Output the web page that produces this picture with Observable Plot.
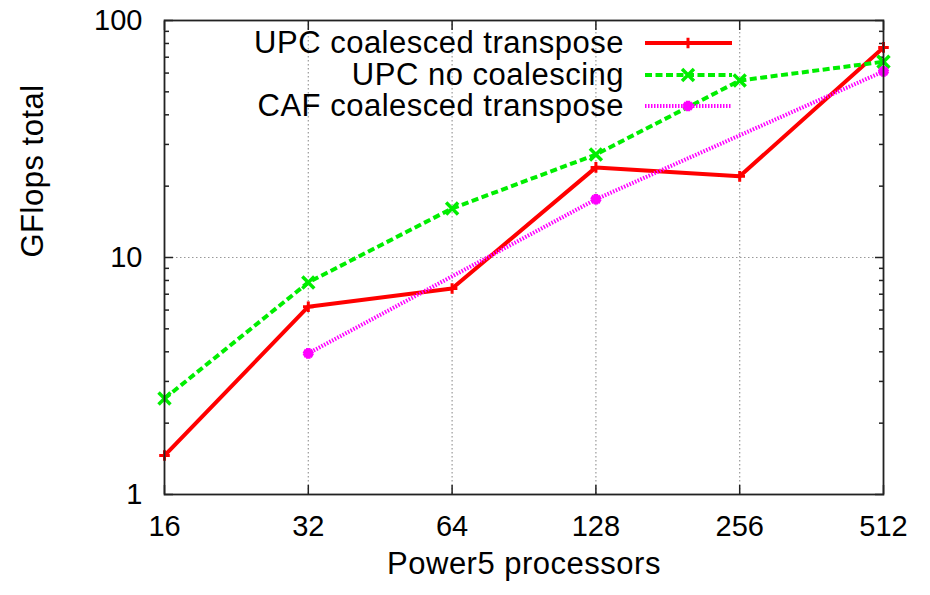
<!DOCTYPE html>
<html><head><meta charset="utf-8">
<script src="https://cdn.jsdelivr.net/npm/d3@7"></script>
<script src="https://cdn.jsdelivr.net/npm/@observablehq/plot@0.6"></script>
<style>
body{margin:0;background:#fff;}
#wrap{position:relative;width:930px;height:595px;font-family:"Liberation Sans",Arial,Helvetica,sans-serif;}
#legend{position:absolute;left:0;top:0;width:930px;height:0;}
.lrow{position:absolute;right:306px;font-size:31px;letter-spacing:0.5px;line-height:30px;white-space:nowrap;color:#000;}
.lsamp{position:absolute;}
</style></head><body><div id="wrap"><div id="legend"></div></div>
<script>
// ---- data ----
const procs = [16, 32, 64, 128, 256, 512];
const upcCoalesced = [1.46, 6.2, 7.4, 24, 22, 77];
const upcNoCoalescing = [2.54, 7.85, 16.1, 27.2, 55.8, 67];
const cafProcs = [32, 128, 512];
const cafCoalesced = [3.94, 17.6, 61];
const seriesNames = ["UPC coalesced transpose", "UPC no coalescing", "CAF coalesced transpose"];
const xTicks = [16, 32, 64, 128, 256, 512];
const yTicks = [1, 10, 100];
const xLabel = "Power5 processors";
const yLabel = "GFlops total";

// ---- styles ----
const styles = [
  {stroke: "#ff0000", dash: null, symbol: "plus", r: 3.5, sw: 3},
  {stroke: "#00ee00", dash: "7,3.5", symbol: "times", r: 5.5, sw: 3.5},
  {stroke: "#ff00ff", dash: "1.5,1.5", symbol: "asterisk", r: 5, sw: 4.5}
];

const rows = [];
procs.forEach((p, i) => rows.push({series: seriesNames[0], s: 0, x: p, y: upcCoalesced[i]}));
procs.forEach((p, i) => rows.push({series: seriesNames[1], s: 1, x: p, y: upcNoCoalescing[i]}));
cafProcs.forEach((p, i) => rows.push({series: seriesNames[2], s: 2, x: p, y: cafCoalesced[i]}));

const minorY = [];
for (const d of [1, 10]) for (let k = 2; k <= 9; k++) minorY.push(d * k);

const lineMarks = styles.map((st, s) =>
  Plot.line(rows.filter(r => r.s === s), {x: "x", y: "y", stroke: st.stroke, strokeWidth: 4,
    strokeDasharray: st.dash, strokeLinecap: "butt", strokeLinejoin: "miter"}));
const dotMarks = styles.map((st, s) =>
  Plot.dot(rows.filter(r => r.s === s), {x: "x", y: "y", stroke: st.stroke, fill: st.stroke,
    symbol: () => st.symbol, r: st.r, strokeWidth: st.sw}));

const noText = () => "";
const tickStyle = {label: null, stroke: "#222", strokeWidth: 1.5, tickFormat: noText};
const chart = Plot.plot({
  width: 930, height: 595,
  marginLeft: 164, marginRight: 47, marginTop: 20, marginBottom: 101,
  style: {fontFamily: '"Liberation Sans", Arial, Helvetica, sans-serif', fontSize: "29px", color: "#000", background: "#fff"},
  x: {type: "log", base: 2, domain: [16, 512]},
  y: {type: "log", domain: [1, 100]},
  symbol: {type: "identity"},
  marks: [
    Plot.gridX(xTicks.slice(1, -1), {stroke: "#999", strokeOpacity: 1, strokeDasharray: "1.5,2.5", strokeWidth: 1.2}),
    Plot.gridY([10], {stroke: "#999", strokeOpacity: 1, strokeDasharray: "1.5,2.5", strokeWidth: 1.2}),
    Plot.axisX({ticks: xTicks, tickSize: 0, tickPadding: 21, tickFormat: d => String(d), label: null, fontSize: 29}),
    Plot.axisX({ticks: xTicks, tickSize: -9, ...tickStyle}),
    Plot.axisX({anchor: "top", ticks: xTicks, tickSize: -9, ...tickStyle}),
    Plot.axisY({ticks: yTicks, tickSize: 0, tickPadding: 22, tickFormat: d => String(d), label: null, fontSize: 29}),
    Plot.axisY({ticks: yTicks, tickSize: -9, ...tickStyle}),
    Plot.axisY({ticks: minorY, tickSize: -5, ...tickStyle}),
    Plot.axisY({anchor: "right", ticks: yTicks, tickSize: -9, ...tickStyle}),
    Plot.axisY({anchor: "right", ticks: minorY, tickSize: -5, ...tickStyle}),
    ...lineMarks,
    ...dotMarks,
    Plot.frame({stroke: "#222", strokeWidth: 1.8}),
    Plot.text([xLabel], {text: d => d, frameAnchor: "bottom", dy: 79, fontSize: 31, style: "letter-spacing:0.5px"}),
    Plot.text([yLabel], {text: d => d, frameAnchor: "left", dx: -131, rotate: -90, fontSize: 31})
  ]
});
const wrap = document.getElementById("wrap");
wrap.insertBefore(chart, wrap.firstChild);
d3.select(chart).selectAll("text").filter(function() { return [xLabel, yLabel].includes(this.textContent); })
  .style("letter-spacing", "0.5px");

// ---- legend (inside plot, top) ----
const legend = d3.select("#legend");
const rowY = [43, 75, 106];
const symType = {plus: d3.symbolPlus, times: d3.symbolTimes, asterisk: d3.symbolAsterisk};
seriesNames.forEach((name, i) => {
  legend.append("div").attr("class", "lrow").style("top", (rowY[i] - 15) + "px").text(name);
  const st = styles[i];
  const svg = legend.append("svg").attr("class", "lsamp")
    .style("left", "640px").style("top", (rowY[i] - 10) + "px")
    .attr("width", 100).attr("height", 20);
  svg.append("line").attr("x1", 5).attr("x2", 92).attr("y1", 10).attr("y2", 10)
    .attr("stroke", st.stroke).attr("stroke-width", 4).attr("stroke-dasharray", st.dash);
  svg.append("path").attr("transform", "translate(48,10)")
    .attr("d", d3.symbol().type(symType[st.symbol]).size(Math.PI * st.r * st.r)())
    .attr("stroke", st.stroke).attr("fill", st.stroke).attr("stroke-width", st.sw);
});
</script></body></html>
